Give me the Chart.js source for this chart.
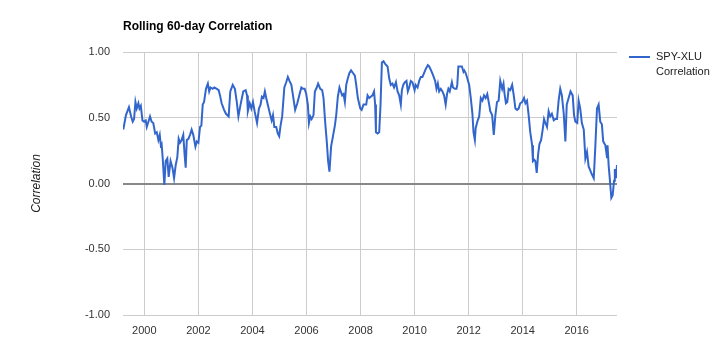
<!DOCTYPE html>
<html>
<head>
<meta charset="utf-8">
<script src="https://cdn.jsdelivr.net/npm/chart.js@4/dist/chart.umd.min.js"></script>
<style>
html,body{margin:0;padding:0;background:#fff;}
#wrap{width:720px;height:356px;}
</style>
</head>
<body>
<div id="wrap"><canvas id="c" width="720" height="356"></canvas></div>
<script>
const chartTitle = "Rolling 60-day Correlation";
const seriesLabel = ["SPY-XLU", "Correlation"];
const yAxisTitle = "Correlation";
const yearTicks = [2000, 2002, 2004, 2006, 2008, 2010, 2012, 2014, 2016];
const valueTicks = [-1, -0.5, 0, 0.5, 1];

// decimal year dates
const dates = [
1999.22,1999.32,1999.43,1999.51,1999.57,1999.62,1999.67,1999.72,1999.78,1999.82,1999.87,1999.93,1999.99,
2000.05,2000.09,2000.15,2000.21,2000.27,2000.33,2000.40,2000.46,2000.52,2000.57,2000.61,2000.64,2000.68,2000.74,2000.79,2000.85,2000.90,2000.97,
2001.04,2001.10,2001.16,2001.22,2001.27,2001.32,2001.38,2001.44,2001.49,2001.53,2001.57,2001.63,2001.69,2001.75,2001.81,2001.89,2001.94,
2002.00,2002.06,2002.11,2002.16,2002.21,2002.28,2002.35,2002.40,2002.45,2002.53,2002.59,2002.68,2002.75,2002.80,2002.86,2002.95,
2003.02,2003.12,2003.18,2003.27,2003.35,2003.42,2003.48,2003.56,2003.66,2003.75,2003.80,2003.83,2003.90,2003.96,
2004.02,2004.08,2004.17,2004.24,2004.30,2004.35,2004.41,2004.46,2004.51,2004.59,2004.66,2004.71,2004.76,2004.81,2004.88,2004.94,2004.99,
2005.04,2005.10,2005.18,2005.25,2005.31,2005.37,2005.44,2005.50,2005.58,2005.66,2005.72,2005.81,2005.87,2005.93,2005.99,
2006.05,2006.09,2006.14,2006.19,2006.26,2006.31,2006.38,2006.43,2006.51,2006.58,2006.63,2006.69,2006.75,2006.80,2006.85,2006.91,2006.98,
2007.05,2007.10,2007.16,2007.22,2007.27,2007.32,2007.37,2007.42,2007.47,2007.53,2007.59,2007.65,2007.72,2007.79,2007.84,2007.90,2007.99,
2008.04,2008.11,2008.21,2008.26,2008.32,2008.38,2008.44,2008.50,2008.54,2008.57,2008.63,2008.69,2008.74,2008.79,2008.85,2008.91,
2009.00,2009.06,2009.12,2009.18,2009.24,2009.31,2009.37,2009.43,2009.49,2009.53,2009.58,2009.64,2009.70,2009.75,2009.80,2009.86,2009.92,
2010.00,2010.04,2010.11,2010.17,2010.23,2010.29,2010.35,2010.41,2010.49,2010.54,2010.61,2010.69,2010.76,2010.81,2010.86,2010.91,2010.97,
2011.03,2011.09,2011.15,2011.20,2011.25,2011.30,2011.38,2011.42,2011.49,2011.55,2011.58,2011.62,2011.68,2011.75,2011.81,2011.84,2011.89,2011.95,
2012.02,2012.08,2012.14,2012.18,2012.23,2012.26,2012.32,2012.39,2012.45,2012.51,2012.57,2012.63,2012.69,2012.76,2012.80,2012.87,2012.93,2012.99,
2013.05,2013.11,2013.17,2013.24,2013.29,2013.33,2013.38,2013.43,2013.48,2013.54,2013.61,2013.67,2013.73,2013.79,2013.85,2013.91,2013.98,
2014.05,2014.10,2014.16,2014.22,2014.28,2014.35,2014.38,2014.43,2014.47,2014.52,2014.57,2014.62,2014.68,2014.74,2014.79,2014.84,2014.90,2014.96,
2015.02,2015.08,2015.15,2015.21,2015.27,2015.33,2015.39,2015.45,2015.52,2015.58,2015.63,2015.70,2015.77,2015.85,2015.90,2015.95,
2016.02,2016.07,2016.13,2016.19,2016.26,2016.32,2016.38,2016.44,2016.50,2016.56,2016.63,2016.69,2016.75,2016.81,2016.87,2016.93,2016.98,
2017.06,2017.12,2017.14,2017.18,2017.23,2017.28,2017.33,2017.38,2017.41,2017.45,2017.49
];
const correlation = [
0.41,0.52,0.58,0.51,0.47,0.49,0.62,0.57,0.61,0.57,0.59,0.48,0.47,
0.48,0.43,0.47,0.51,0.47,0.46,0.38,0.39,0.33,0.37,0.29,0.30,0.19,-0.01,0.17,0.19,0.05,0.17,
0.12,0.04,0.14,0.20,0.34,0.31,0.33,0.37,0.22,0.12,0.33,0.34,0.37,0.41,0.37,0.28,0.32,
0.31,0.43,0.44,0.60,0.62,0.72,0.76,0.70,0.73,0.72,0.73,0.72,0.71,0.67,0.61,0.56,
0.53,0.51,0.70,0.75,0.72,0.62,0.51,0.60,0.70,0.71,0.67,0.55,0.61,0.57,
0.62,0.55,0.46,0.57,0.60,0.66,0.65,0.70,0.65,0.58,0.52,0.48,0.52,0.43,0.43,0.38,0.36,
0.44,0.51,0.73,0.77,0.81,0.78,0.75,0.67,0.56,0.61,0.66,0.73,0.72,0.72,0.68,
0.60,0.46,0.51,0.49,0.52,0.70,0.73,0.76,0.72,0.71,0.65,0.47,0.32,0.17,0.09,0.28,0.36,
0.44,0.52,0.66,0.73,0.70,0.67,0.68,0.62,0.75,0.80,0.84,0.86,0.84,0.82,0.75,0.65,0.57,
0.56,0.60,0.60,0.67,0.65,0.66,0.67,0.70,0.60,0.39,0.38,0.39,0.60,0.92,0.93,0.91,
0.89,0.80,0.75,0.76,0.73,0.77,0.70,0.67,0.60,0.71,0.75,0.77,0.78,0.70,0.73,0.78,0.77,
0.71,0.75,0.73,0.78,0.81,0.81,0.84,0.87,0.90,0.89,0.86,0.82,0.78,0.72,0.76,0.70,0.72,
0.70,0.67,0.60,0.68,0.72,0.70,0.77,0.73,0.72,0.72,0.75,0.89,0.89,0.89,0.85,0.86,0.84,0.80,
0.75,0.65,0.53,0.39,0.33,0.42,0.47,0.51,0.65,0.63,0.67,0.65,0.68,0.60,0.55,0.52,0.37,0.52,
0.62,0.63,0.78,0.72,0.76,0.68,0.61,0.62,0.72,0.71,0.75,0.67,0.57,0.56,0.57,0.61,0.62,
0.65,0.61,0.63,0.52,0.39,0.29,0.17,0.18,0.17,0.08,0.22,0.30,0.33,0.41,0.49,0.46,0.43,0.55,
0.51,0.53,0.48,0.49,0.49,0.63,0.72,0.67,0.53,0.32,0.60,0.65,0.70,0.67,0.52,0.47,
0.46,0.63,0.57,0.46,0.41,0.19,0.24,0.13,0.10,0.07,0.04,0.29,0.57,0.60,0.47,0.45,0.32,
0.29,0.20,0.29,0.14,0.02,-0.11,-0.09,0.02,0.11,0.04,0.14
];
const xRange = [1999.21, 2017.49];

const points = dates.map((d, i) => ({ x: d, y: correlation[i] }));
const FONT = "Arial, 'Liberation Sans', sans-serif";

const overlay = {
  id: 'overlay',
  afterDraw(chart) {
    const ctx = chart.ctx;
    const area = chart.chartArea;
    ctx.save();
    // title
    ctx.fillStyle = '#000';
    ctx.font = "bold 12px " + FONT;
    ctx.textBaseline = 'middle';
    ctx.textAlign = 'left';
    ctx.fillText(chartTitle, area.left, 27);
    // legend
    const lx = area.right + 12;
    const ly = 57;
    ctx.strokeStyle = '#3366cc';
    ctx.lineWidth = 2;
    ctx.beginPath();
    ctx.moveTo(lx, ly);
    ctx.lineTo(lx + 21, ly);
    ctx.stroke();
    ctx.fillStyle = '#222';
    ctx.font = "11px " + FONT;
    ctx.fillText(seriesLabel[0], lx + 27, ly);
    ctx.fillText(seriesLabel[1], lx + 27, ly + 15);
    ctx.restore();
  }
};

new Chart(document.getElementById('c'), {
  type: 'line',
  data: {
    datasets: [{
      label: seriesLabel.join(' '),
      data: points,
      borderColor: '#3366cc',
      borderWidth: 2,
      pointRadius: 0,
      tension: 0,
      fill: false
    }]
  },
  options: {
    responsive: false,
    animation: false,
    devicePixelRatio: 1,
    layout: { padding: { left: 29, right: 103, top: 52, bottom: 0 } },
    plugins: {
      legend: { display: false },
      title: { display: false },
      tooltip: { enabled: false }
    },
    scales: {
      x: {
        type: 'linear',
        min: xRange[0],
        max: xRange[1],
        afterBuildTicks: s => { s.ticks = yearTicks.map(v => ({ value: v })); },
        afterFit: s => { s.height = 41; },
        border: { display: false },
        grid: { color: '#cccccc', lineWidth: 1, drawTicks: false },
        ticks: {
          padding: 9,
          color: '#333',
          font: { family: FONT, size: 11 },
          maxRotation: 0,
          autoSkip: false,
          callback: v => String(v)
        }
      },
      y: {
        min: -1,
        max: 1,
        afterBuildTicks: s => { s.ticks = valueTicks.map(v => ({ value: v })); },
        afterFit: s => { s.width = 94; },
        border: { display: false },
        grid: {
          drawTicks: false,
          color: c => c.tick && c.tick.value === 0 ? '#888888' : '#cccccc',
          lineWidth: c => c.tick && c.tick.value === 0 ? 2 : 1
        },
        ticks: {
          padding: 13,
          color: '#333',
          font: { family: FONT, size: 11 },
          callback: v => Number(v).toFixed(2)
        },
        title: {
          display: true,
          text: yAxisTitle,
          color: '#222',
          font: { family: FONT, size: 12, style: 'italic' },
          padding: { top: 0, bottom: 0 }
        }
      }
    }
  },
  plugins: [overlay]
});
</script>
</body>
</html>
